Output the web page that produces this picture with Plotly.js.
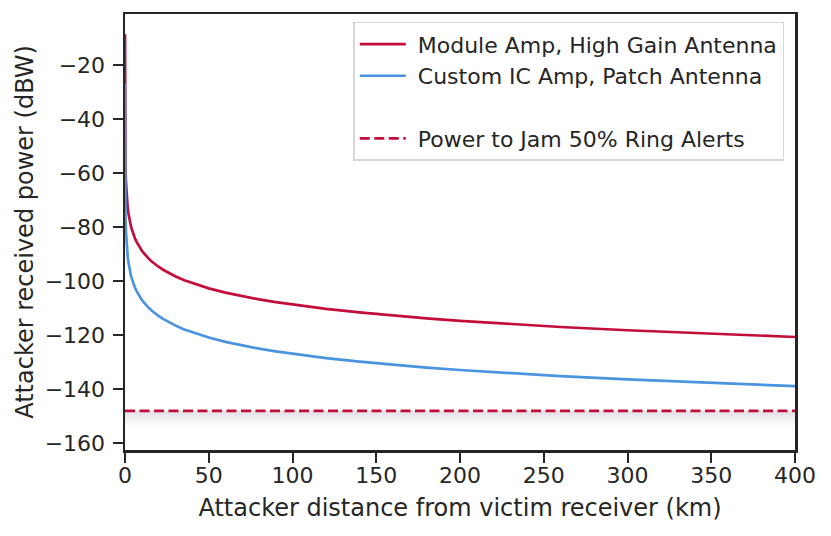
<!DOCTYPE html>
<html>
<head>
<meta charset="utf-8">
<script src="https://cdn.plot.ly/plotly-3.0.1.min.js"></script>
<style>html,body{margin:0;padding:0;background:#fff;}#chart{width:831px;height:536px;}</style>
</head>
<body>
<div id="chart"></div>
<script>
// Distance from victim receiver (km)
var distanceKm = [0.001, 0.002, 0.005, 0.01, 0.02, 0.05, 0.1, 0.2, 0.3, 0.5, 0.7, 1, 1.3, 1.6, 2, 2.5, 3, 3.5, 4, 5, 6, 7, 8, 9, 10, 11, 12, 14, 16, 18, 20, 23, 26, 30, 35, 40, 45, 50, 60, 70, 80, 90, 100, 120, 140, 160, 180, 200, 230, 260, 300, 340, 370, 400];
// Module Amp, High Gain Antenna (dBW)
var moduleAmpPower = [-8.7, -14.7, -22.7, -28.7, -34.7, -42.7, -48.7, -54.7, -58.2, -62.7, -65.6, -68.7, -71.0, -72.8, -74.7, -76.7, -78.2, -79.6, -80.7, -82.7, -84.3, -85.6, -86.8, -87.8, -88.7, -89.5, -90.3, -91.6, -92.8, -93.8, -94.7, -95.9, -97.0, -98.2, -99.6, -100.7, -101.8, -102.7, -104.3, -105.6, -106.8, -107.8, -108.7, -110.3, -111.6, -112.8, -113.8, -114.7, -115.9, -117.0, -118.2, -119.3, -120.1, -120.7];
// Custom IC Amp, Patch Antenna (dBW)
var customIcPower = [-26.9, -32.9, -40.9, -46.9, -52.9, -60.9, -66.9, -72.9, -76.4, -80.9, -83.8, -86.9, -89.2, -91.0, -92.9, -94.9, -96.4, -97.8, -98.9, -100.9, -102.5, -103.8, -105.0, -106.0, -106.9, -107.7, -108.5, -109.8, -111.0, -112.0, -112.9, -114.1, -115.2, -116.4, -117.8, -118.9, -120.0, -120.9, -122.5, -123.8, -125.0, -126.0, -126.9, -128.5, -129.8, -131.0, -132.0, -132.9, -134.1, -135.2, -136.4, -137.5, -138.3, -138.9];
// Power to jam 50% of Ring alerts (dBW)
var jamX = [0, 400];
var jamPower = [-148, -148];
// Shaded band under the jam threshold
var bandX = [0, 400, 400, 0];
var bandY = [-148, -148, -154.5, -154.5];
var yTicks = [-20, -40, -60, -80, -100, -120, -140, -160];
var xTicks = [0, 50, 100, 150, 200, 250, 300, 350, 400];
var seriesNames = ['Module Amp, High Gain Antenna', 'Custom IC Amp, Patch Antenna', 'Power to Jam 50% Ring Alerts'];

var RED = '#c30d3b';
var BLUE = '#4a94e0';
var INK = '#262626';
var FONT = 'DejaVu Sans, sans-serif';
var TICK_FS = 22;
var TITLE_FS = 24;
var LEG_FS = 22;
var PAD = '\u00a0';

var traces = [
  {
    x: bandX, y: bandY, type: 'scatter', mode: 'lines', fill: 'toself',
    line: {width: 0}, showlegend: false, hoverinfo: 'skip',
    fillgradient: {type: 'vertical', start: -154.5, stop: -148,
      colorscale: [[0, 'rgba(240,238,242,0)'], [0.5, 'rgba(230,226,232,0.5)'], [1, 'rgba(218,213,221,0.8)']]}
  },
  {x: distanceKm, y: moduleAmpPower, type: 'scatter', mode: 'lines', name: PAD + seriesNames[0],
   line: {color: RED, width: 2.7}, legendgroup: 'a'},
  {x: distanceKm, y: customIcPower, type: 'scatter', mode: 'lines', name: PAD + seriesNames[1],
   line: {color: BLUE, width: 2.7}, legendgroup: 'a'},
  {x: jamX, y: jamPower, type: 'scatter', mode: 'lines', name: PAD + seriesNames[2],
   line: {color: RED, width: 2.7, dash: '10px,4.5px'}, legendgroup: 'b'}
];

var layout = {
  width: 831, height: 536,
  margin: {l: 125, r: 36, t: 14, b: 86},
  paper_bgcolor: '#fff', plot_bgcolor: '#fff',
  font: {family: FONT, size: TICK_FS, color: INK},
  showlegend: true,
  legend: {
    x: 0.984, xanchor: 'right', y: 0.982, yanchor: 'top',
    bgcolor: 'rgba(255,255,255,0.9)', bordercolor: '#d6d6d6', borderwidth: 1.5,
    font: {family: FONT, size: LEG_FS, color: INK},
    tracegroupgap: 31, traceorder: 'grouped', itemwidth: 46
  },
  xaxis: {
    range: [0, 400], tickvals: xTicks, ticks: 'outside', ticklen: 10, tickwidth: 2, tickcolor: INK,
    showline: true, linecolor: INK, linewidth: 2.5, mirror: true, showgrid: false, zeroline: false,
    ticklabelstandoff: -6,
    tickfont: {family: FONT, size: TICK_FS, color: INK},
    title: {text: 'Attacker distance from victim receiver (km)', font: {family: FONT, size: TITLE_FS, color: INK}, standoff: 13}
  },
  yaxis: {
    range: [-162.5, -1.2], tickvals: yTicks, ticks: 'outside', ticklen: 10, tickwidth: 2, tickcolor: INK,
    showline: true, linecolor: INK, linewidth: 2.5, mirror: true, showgrid: false, zeroline: false,
    ticklabelstandoff: 3,
    tickfont: {family: FONT, size: TICK_FS, color: INK},
    title: {text: 'Attacker received power (dBW)', font: {family: FONT, size: TITLE_FS, color: INK}, standoff: 5}
  }
};

Plotly.newPlot('chart', traces, layout, {staticPlot: true, displayModeBar: false});
</script>
</body>
</html>
